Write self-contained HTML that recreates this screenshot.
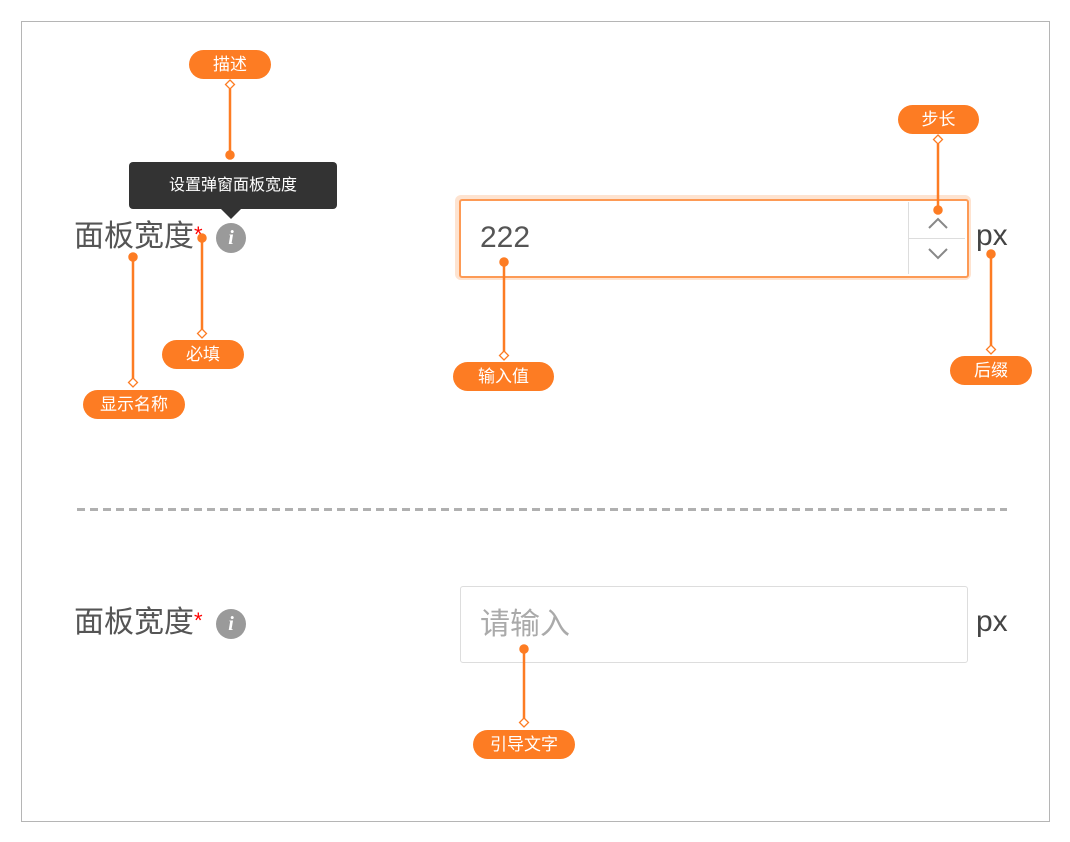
<!DOCTYPE html>
<html><head><meta charset="utf-8"><style>
body{margin:0;width:1070px;height:842px;background:#fff;position:relative;overflow:hidden;font-family:"Liberation Sans","Noto Sans CJK SC",sans-serif}
.a{position:absolute}
.pill{position:absolute;height:29px;border-radius:15px;background:#fd7c23;color:#fff;font-size:17px;line-height:29px;text-align:center}
.lbl{position:absolute;font-size:30px;color:#555;line-height:40px;white-space:nowrap}
.lbl b{color:#f00;font-weight:normal;font-size:22px;vertical-align:top;position:relative;top:-2px}
.info{position:absolute;width:30px;height:30px;border-radius:50%;background:#9a9a9a;color:#fff;font:italic bold 20px/30px "Liberation Serif",serif;text-align:center}
</style></head><body>
<div class="a" style="left:21px;top:21px;width:1027px;height:799px;border:1px solid #b5b5b5"></div>

<div class="a" style="left:129px;top:162px;width:208px;height:47px;background:#333;border-radius:4px;color:#fff;font-size:16px;line-height:47px;text-align:center">设置弹窗面板宽度</div>
<div class="a" style="left:221px;top:209px;width:0;height:0;border-left:10px solid transparent;border-right:10px solid transparent;border-top:10px solid #333"></div>

<div class="lbl" style="left:74px;top:217px">面板宽度<b>*</b></div>
<div class="info" style="left:216px;top:223px">i</div>
<div class="lbl" style="left:74px;top:603px">面板宽度<b>*</b></div>
<div class="info" style="left:216px;top:609px">i</div>

<div class="a" style="left:455px;top:195px;width:516px;height:85px;border-radius:6px;background:#fee3d0"></div>
<div class="a" style="left:459px;top:199px;width:506px;height:75px;border:2px solid #fd9a55;border-radius:3px;background:#fff"></div>
<div class="a" style="left:908px;top:202px;width:1px;height:72px;background:#ddd"></div>
<div class="a" style="left:909px;top:238px;width:56px;height:1px;background:#ddd"></div>
<div class="a" style="left:480px;top:218px;font-size:30px;color:#555;line-height:40px">222</div>
<div class="a" style="left:976px;top:216px;font-size:30px;color:#444;line-height:40px">px</div>

<div class="a" style="left:460px;top:586px;width:506px;height:75px;border:1px solid #ddd;border-radius:3px"></div>
<div class="a" style="left:480px;top:605px;font-size:30px;color:#aaa;line-height:40px">请输入</div>
<div class="a" style="left:976px;top:602px;font-size:30px;color:#444;line-height:40px">px</div>

<svg class="a" style="left:0;top:0" width="1070" height="842">
<line x1="77" y1="509.5" x2="1007" y2="509.5" stroke="#b0b0b0" stroke-width="3" stroke-dasharray="8,5"/>
<path d="M929 228l9-9 9 9M929 249l9 9 9-9" fill="none" stroke="#888" stroke-width="2"/>
<g stroke="#fd7c23" stroke-width="2.5" fill="#fd7c23">
<line x1="230" y1="89" x2="230" y2="155"/><circle cx="230" cy="155" r="3.5"/>
<line x1="133" y1="257" x2="133" y2="379"/><circle cx="133" cy="257" r="3.5"/>
<line x1="202" y1="238" x2="202" y2="330"/><circle cx="202" cy="238" r="3.5"/>
<line x1="504" y1="262" x2="504" y2="352"/><circle cx="504" cy="262" r="3.5"/>
<line x1="938" y1="144" x2="938" y2="210"/><circle cx="938" cy="210" r="3.5"/>
<line x1="991" y1="254" x2="991" y2="346"/><circle cx="991" cy="254" r="3.5"/>
<line x1="524" y1="649" x2="524" y2="719"/><circle cx="524" cy="649" r="3.5"/>
</g>
<g stroke="#fd7c23" stroke-width="1.3" fill="#fff">
<path d="M230 80l4.5 4.5-4.5 4.5-4.5-4.5z"/>
<path d="M133 378l4.5 4.5-4.5 4.5-4.5-4.5z"/>
<path d="M202 329l4.5 4.5-4.5 4.5-4.5-4.5z"/>
<path d="M504 351l4.5 4.5-4.5 4.5-4.5-4.5z"/>
<path d="M938 135l4.5 4.5-4.5 4.5-4.5-4.5z"/>
<path d="M991 345l4.5 4.5-4.5 4.5-4.5-4.5z"/>
<path d="M524 718l4.5 4.5-4.5 4.5-4.5-4.5z"/>
</g>
</svg>

<div class="pill" style="left:189px;top:50px;width:82px">描述</div>
<div class="pill" style="left:898px;top:105px;width:81px">步长</div>
<div class="pill" style="left:162px;top:340px;width:82px">必填</div>
<div class="pill" style="left:83px;top:390px;width:102px">显示名称</div>
<div class="pill" style="left:453px;top:362px;width:101px">输入值</div>
<div class="pill" style="left:950px;top:356px;width:82px">后缀</div>
<div class="pill" style="left:473px;top:730px;width:102px">引导文字</div>
</body></html>
